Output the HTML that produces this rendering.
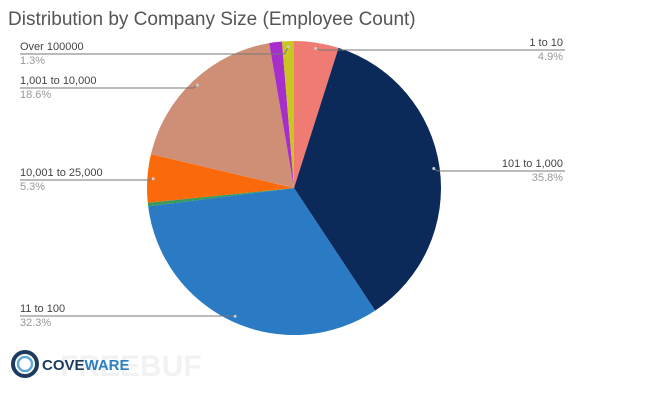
<!DOCTYPE html>
<html><head><meta charset="utf-8"><style>
body{margin:0;background:#fff;}
svg{display:block;font-family:"Liberation Sans",sans-serif;}
</style></head><body>
<svg id="c" width="660" height="416">
<text x="8" y="25" font-size="19" fill="#555">Distribution by Company Size (Employee Count)</text>
<g id="slices"></g>
<g id="labels"></g>
<g>
<circle cx="25" cy="364" r="12" fill="none" stroke="#1d3b5e" stroke-width="4"/>
<circle cx="25" cy="364" r="7" fill="none" stroke="#5fa9d6" stroke-width="2.5"/>
<text x="60" y="376" font-size="30" font-weight="bold" fill="#f2f2f2">FREEBUF</text>
<text x="42" y="370" font-size="15" font-weight="bold" fill="#1d3b5e">COVE<tspan fill="#2e7fc0">WARE</tspan></text>
</g>
</svg>
<script>
const categories=["1 to 10","101 to 1,000","11 to 100","Other","10,001 to 25,000","1,001 to 10,000","Other2","Over 100000"];
const values=[4.9,35.8,32.3,0.4,5.3,18.6,1.4,1.3];
const colors=["#ef7b73","#0b2a5a","#2a7bc4","#3a9a5a","#fb6a0a","#cf8f76","#a82ecb","#c9c521"];
const labelSide=["r","r","l",null,"l","l",null,"l"];
const labelY=[50,171,316,null,180,88,null,54];
const cx=294,cy=188,R=147;
const NS="http://www.w3.org/2000/svg";
const total=values.reduce((a,b)=>a+b,0);
const gs=document.getElementById('slices'),gl=document.getElementById('labels');
function pt(a,r){return [cx+r*Math.sin(a),cy-r*Math.cos(a)];}
let acc=0;
values.forEach((v,i)=>{
  const a0=acc/total*2*Math.PI;acc+=v;const a1=acc/total*2*Math.PI;
  const p0=pt(a0,R),p1=pt(a1,R);
  const p=document.createElementNS(NS,'path');
  p.setAttribute('d',`M${cx},${cy}L${p0[0]},${p0[1]}A${R},${R} 0 ${a1-a0>Math.PI?1:0} 1 ${p1[0]},${p1[1]}Z`);
  p.setAttribute('fill',colors[i]);
  
  
  gs.appendChild(p);
  if(!labelSide[i])return;
  const am=(a0+a1)/2,pm=pt(am,R*0.96);
  const y=labelY[i],right=labelSide[i]==='r';
  const x0=right?565:20;
  const l=document.createElementNS(NS,'polyline');
  l.setAttribute('points',right?`${x0},${y} ${pm[0]+4},${y} ${pm[0]},${pm[1]}`:`${x0},${y} ${pm[0]-4},${y} ${pm[0]},${pm[1]}`);
  l.setAttribute('fill','none');l.setAttribute('stroke','#777');l.setAttribute('stroke-width','1');
  
  
  gl.appendChild(l);
  const c=document.createElementNS(NS,'circle');
  c.setAttribute('cx',pm[0]);c.setAttribute('cy',pm[1]);c.setAttribute('r',1.5);c.setAttribute('fill','#ccc');
  
  
  gl.appendChild(c);
  const t=document.createElementNS(NS,'text');
  t.setAttribute('x',right?563:20);t.setAttribute('y',y-4);t.setAttribute('font-size','11');t.setAttribute('fill','#444');
  if(right)t.setAttribute('text-anchor','end');
  t.textContent=categories[i];
  
  
  gl.appendChild(t);
  const t2=document.createElementNS(NS,'text');
  t2.setAttribute('x',right?563:20);t2.setAttribute('y',y+10);t2.setAttribute('font-size','11');t2.setAttribute('fill','#999');
  if(right)t2.setAttribute('text-anchor','end');
  t2.textContent=v.toFixed(1)+'%';
  
  
  gl.appendChild(t2);
});
</script>
</body></html>
